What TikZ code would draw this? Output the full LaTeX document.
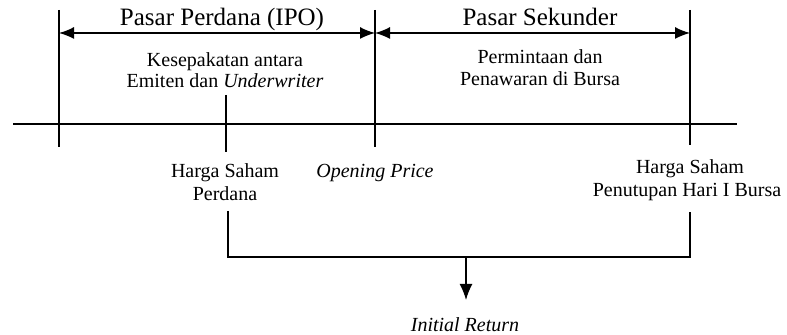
\documentclass[tikz,border=0pt]{standalone}
\usepackage{fontspec}
\setmainfont{Liberation Serif}
\usetikzlibrary{arrows.meta}
\begin{document}
\begin{tikzpicture}[x=0.5pt,y=-0.5pt, line width=0.7pt,
  lbl/.style={anchor=base, inner sep=0pt, font=\fontsize{10}{12}\selectfont},
  ttl/.style={anchor=base, inner sep=0pt, font=\fontsize{12.5}{15}\selectfont},
  tip/.style={Latex[length=7.5pt,width=6pt]},
  arr/.style={-{Latex[length=8pt,width=6.5pt]}},
  darr/.style={{Latex[length=7.5pt,width=6pt]}-{Latex[length=7.5pt,width=6pt]}}]
\useasboundingbox (0,0) rectangle (787,335);
% vertical markers and time line
\coordinate (at) at (59,10);  \coordinate (ab) at (59,147);
\coordinate (bt) at (375,10); \coordinate (bb) at (375,147);
\coordinate (ct) at (690,10); \coordinate (cb) at (690,145);
\coordinate (hl) at (13,124); \coordinate (hr) at (737,124);
\draw (at) -- (ab);
\draw (bt) -- (bb);
\draw (ct) -- (cb);
\draw (hl) -- (hr);
% span arrows
\coordinate (a1) at (59,33); \coordinate (b1) at (375,33); \coordinate (c1) at (690,33);
\draw[darr] (a1) -- (b1);
\draw[darr] (b1) -- (c1);
% titles
\node[ttl] (pp) at (222,26) {Pasar Perdana (IPO)};
\node[ttl] (ps) at (540,26) {Pasar Sekunder};
% descriptions
\node[lbl] (k1) at (225,67) {Kesepakatan antara};
\node[lbl] (k2) at (225,88) {Emiten dan \textit{Underwriter}};
\node[lbl] (p1) at (540,64) {Permintaan dan};
\node[lbl] (p2) at (540,86) {Penawaran di Bursa};
% tick for IPO price
\coordinate (tt) at (226,95); \coordinate (tb) at (226,152);
\draw (tt) -- (tb);
% labels below line
\node[lbl] (h1) at (225,178) {Harga Saham};
\node[lbl] (h2) at (225,201) {Perdana};
\node[lbl] (op) at (375,178) {\textit{Opening Price}};
\node[lbl] (r1) at (690,174) {Harga Saham};
\node[lbl] (r2) at (687,197) {Penutupan Hari I Bursa};
% bracket
\coordinate (l0) at (228,211); \coordinate (l1) at (228,257);
\coordinate (r0) at (690,212); \coordinate (r1c) at (690,257);
\coordinate (m0) at (466,257); \coordinate (m1) at (466,300);
\draw (l0) -- (l1) -- (r1c) -- (r0);
\draw[arr] (m0) -- (m1);
\node[lbl] (ir) at (465,332) {\textit{Initial Return}};
\end{tikzpicture}
\end{document}
